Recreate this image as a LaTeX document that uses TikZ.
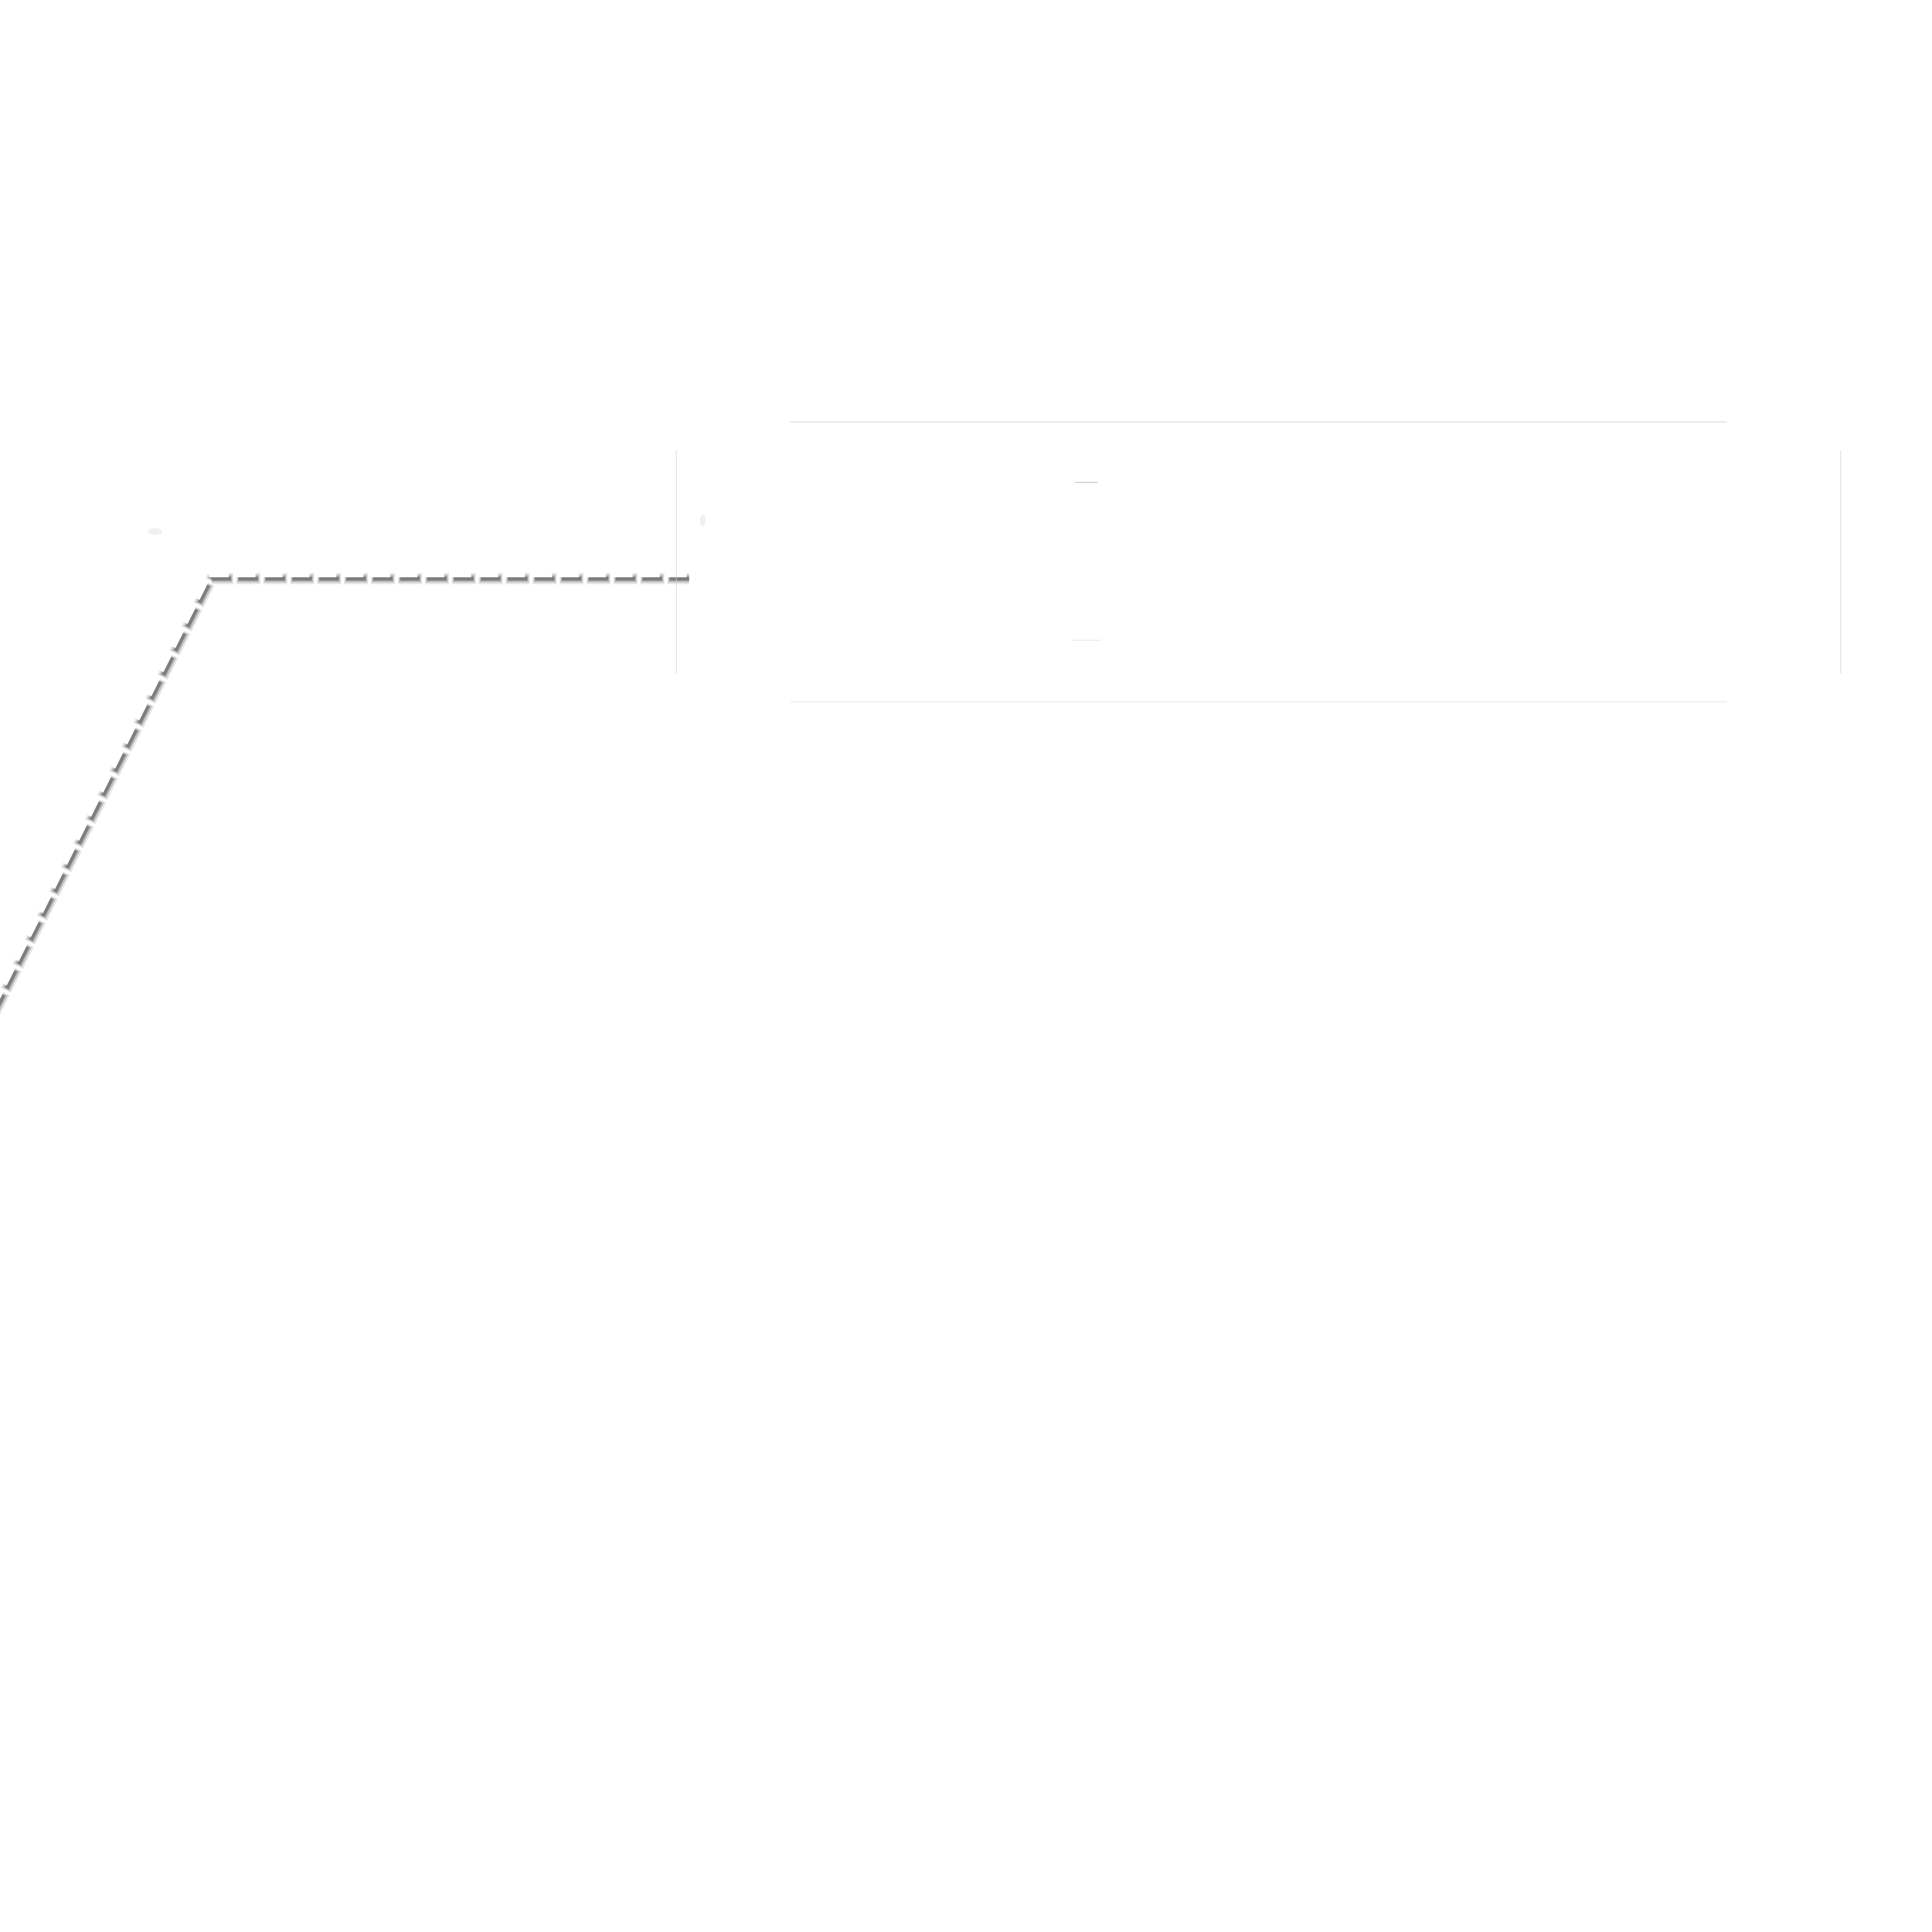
\documentclass[tikz,border=0pt]{standalone}
\usetikzlibrary{calc}
\definecolor{edgetop}{RGB}{200,200,200}
\definecolor{edgebot}{RGB}{222,222,222}
\definecolor{edgeside}{RGB}{208,208,208}
\definecolor{marktop}{RGB}{205,205,205}
\definecolor{markbot}{RGB}{238,238,238}
\tikzset{
  whitedash/.style={draw=white, line width=0.1cm, dash pattern=on 0.35cm off 0.133cm},
  shadowA/.style={draw=black, draw opacity=0.1, line width=0.2cm, dash pattern=on 0.43cm off 0.053cm, dash phase=0.04cm},
  shadowB/.style={draw=black, draw opacity=0.18, line width=0.135cm, dash pattern=on 0.39cm off 0.093cm, dash phase=0.02cm},
  shadowC/.style={draw=black, draw opacity=0.32, line width=0.07cm, dash pattern=on 0.35cm off 0.133cm},
  boxframe/.style={inner sep=0pt, minimum width=20.87cm, minimum height=5.01cm},
  edgeline/.style={line width=0.4pt},
  faintblob/.style={fill=black, fill opacity=0.06, draw=none}
}
\begin{document}
\begin{tikzpicture}
\useasboundingbox (0,0) rectangle (34.64,34.64);
\fill[white] (0,0) rectangle (34.64,34.64);
\clip (0,0) rectangle (34.64,34.64);

% connector coordinates
\coordinate (lineend) at (12.31,24.34);
\coordinate (bend) at (3.75,24.34);
\coordinate (far) at (-1.0,14.84);
% shadow copies of the connector points
\coordinate (slineend) at ($(lineend)+(0.045,-0.075)$);
\coordinate (sbend) at ($(bend)+(0.045,-0.075)$);
\coordinate (sfar) at ($(far)+(0.045,-0.075)$);

% shadow of the dashed connector
\draw[shadowA] (slineend) -- (sbend) -- (sfar);
\draw[shadowB] (slineend) -- (sbend) -- (sfar);
\draw[shadowC] (slineend) -- (sbend) -- (sfar);
% white dashed connector
\draw[whitedash] (lineend) -- (bend) -- (far);

% faint marks
\fill[faintblob] (2.78,25.11) ellipse (0.13cm and 0.06cm);
\fill[faintblob] (12.60,25.31) ellipse (0.05cm and 0.1cm);

% box frame
\node[boxframe] (box) at (22.565,24.565) {};
\draw[edgeline, edgetop] ([xshift=2.05cm]box.north west) -- ([xshift=-2.05cm]box.north east);
\draw[edgeline, edgebot] ([xshift=2.05cm]box.south west) -- ([xshift=-2.05cm]box.south east);
\draw[edgeline, edgeside] ([yshift=-0.52cm]box.north west) -- ([yshift=0.51cm]box.south west);
\draw[edgeline, edgeside] ([yshift=-0.52cm]box.north east) -- ([yshift=0.51cm]box.south east);

% small marks inside the box
\coordinate (m1a) at (19.28,25.99);
\coordinate (m1b) at (19.68,25.99);
\coordinate (m2a) at (19.22,23.16);
\coordinate (m2b) at (19.75,23.16);
\draw[line width=0.5pt, marktop] (m1a) -- (m1b);
\draw[line width=0.5pt, markbot] (m2a) -- (m2b);
\end{tikzpicture}
\end{document}
